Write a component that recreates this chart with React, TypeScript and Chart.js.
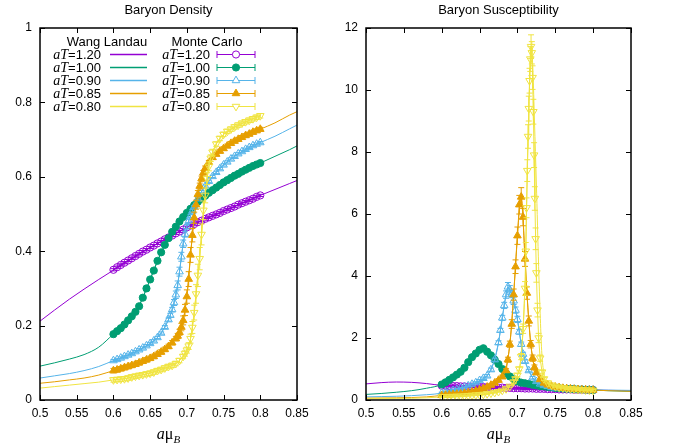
import React, { useEffect, useRef } from 'react';
import { Chart, registerables } from 'chart.js';
Chart.register(...registerables);

const SANS = '"Liberation Sans", Arial, Helvetica, sans-serif';
const SERIF = '"Liberation Serif", "Times New Roman", serif';

// ---------- labels ----------
const temps = ['1.20', '1.00', '0.90', '0.85', '0.80'];
const xTicks = [0.5, 0.55, 0.6, 0.65, 0.7, 0.75, 0.8, 0.85];
const xTickLabels = ['0.5', '0.55', '0.6', '0.65', '0.7', '0.75', '0.8', '0.85'];
const densYTicks = [0, 0.2, 0.4, 0.6, 0.8, 1];
const densYTickLabels = ['0', '0.2', '0.4', '0.6', '0.8', '1'];
const chiYTicks = [0, 2, 4, 6, 8, 10, 12];
const chiYTickLabels = ['0', '2', '4', '6', '8', '10', '12'];

// ---------- Monte Carlo x grids ----------
const mcX = [0.600, 0.605, 0.610, 0.615, 0.620, 0.625, 0.630, 0.635, 0.640, 0.645, 0.650, 0.655, 0.660, 0.665, 0.670, 0.675, 0.680, 0.685, 0.690, 0.695, 0.700, 0.705, 0.710, 0.715, 0.720, 0.725, 0.730, 0.735, 0.740, 0.745, 0.750, 0.755, 0.760, 0.765, 0.770, 0.775, 0.780, 0.785, 0.790, 0.795, 0.800];
const blueX = [0.600, 0.605, 0.610, 0.615, 0.620, 0.625, 0.630, 0.635, 0.640, 0.645, 0.650, 0.655, 0.660, 0.665, 0.670, 0.675, 0.6775, 0.680, 0.6825, 0.685, 0.6875, 0.690, 0.6925, 0.695, 0.6975, 0.700, 0.7025, 0.705, 0.7075, 0.710, 0.715, 0.720, 0.725, 0.730, 0.735, 0.740, 0.745, 0.750, 0.755, 0.760, 0.765, 0.770, 0.775, 0.780, 0.785, 0.790, 0.795, 0.800];
const orangeX = [0.600, 0.605, 0.610, 0.615, 0.620, 0.625, 0.630, 0.635, 0.640, 0.645, 0.650, 0.655, 0.660, 0.665, 0.670, 0.675, 0.680, 0.685, 0.6875, 0.690, 0.6925, 0.695, 0.6975, 0.700, 0.7025, 0.705, 0.7075, 0.710, 0.7125, 0.715, 0.7175, 0.720, 0.7225, 0.725, 0.730, 0.735, 0.740, 0.745, 0.750, 0.755, 0.760, 0.765, 0.770, 0.775, 0.780, 0.785, 0.790, 0.795, 0.800];
const yellowDensX = [0.600, 0.605, 0.610, 0.615, 0.620, 0.625, 0.630, 0.635, 0.640, 0.645, 0.650, 0.655, 0.660, 0.665, 0.670, 0.675, 0.680, 0.685, 0.690, 0.695, 0.6975, 0.700, 0.7025, 0.705, 0.7075, 0.710, 0.7125, 0.715, 0.7175, 0.720, 0.7225, 0.725, 0.7275, 0.730, 0.7325, 0.735, 0.740, 0.745, 0.750, 0.755, 0.760, 0.765, 0.770, 0.775, 0.780, 0.785, 0.790, 0.795, 0.800];
const yellowChiX = [0.600, 0.605, 0.610, 0.615, 0.620, 0.625, 0.630, 0.635, 0.640, 0.645, 0.650, 0.655, 0.660, 0.665, 0.670, 0.675, 0.680, 0.685, 0.690, 0.695, 0.6975, 0.700, 0.7025, 0.705, 0.7075, 0.710, 0.711, 0.712, 0.713, 0.714, 0.715, 0.716, 0.717, 0.718, 0.719, 0.720, 0.721, 0.722, 0.723, 0.724, 0.725, 0.7265, 0.728, 0.730, 0.7325, 0.735, 0.740, 0.745, 0.750, 0.755, 0.760, 0.765, 0.770, 0.775, 0.780, 0.785, 0.790, 0.795, 0.800];

// ---------- Baryon density, Monte Carlo ----------
const densMC120 = [0.350, 0.357, 0.363, 0.369, 0.375, 0.381, 0.387, 0.393, 0.399, 0.404, 0.410, 0.415, 0.421, 0.426, 0.432, 0.437, 0.442, 0.448, 0.453, 0.458, 0.464, 0.469, 0.473, 0.478, 0.482, 0.487, 0.491, 0.495, 0.499, 0.503, 0.508, 0.512, 0.516, 0.520, 0.525, 0.529, 0.533, 0.537, 0.541, 0.546, 0.550];
const densMC100 = [0.177, 0.185, 0.193, 0.203, 0.214, 0.225, 0.237, 0.252, 0.275, 0.300, 0.324, 0.348, 0.374, 0.397, 0.417, 0.435, 0.452, 0.466, 0.480, 0.492, 0.503, 0.514, 0.524, 0.533, 0.541, 0.549, 0.557, 0.564, 0.571, 0.578, 0.585, 0.591, 0.597, 0.603, 0.608, 0.614, 0.619, 0.624, 0.629, 0.633, 0.637];
const densMC090 = [0.106, 0.109, 0.113, 0.117, 0.121, 0.125, 0.130, 0.135, 0.140, 0.146, 0.152, 0.159, 0.168, 0.180, 0.196, 0.216, 0.228, 0.243, 0.262, 0.283, 0.308, 0.345, 0.385, 0.420, 0.446, 0.466, 0.481, 0.495, 0.508, 0.520, 0.541, 0.560, 0.575, 0.588, 0.601, 0.612, 0.622, 0.632, 0.640, 0.648, 0.655, 0.662, 0.668, 0.674, 0.679, 0.684, 0.688, 0.692];
const densMC085 = [0.079, 0.081, 0.084, 0.087, 0.090, 0.093, 0.096, 0.100, 0.104, 0.108, 0.112, 0.117, 0.123, 0.129, 0.136, 0.144, 0.154, 0.165, 0.172, 0.182, 0.196, 0.214, 0.242, 0.278, 0.325, 0.390, 0.443, 0.490, 0.525, 0.553, 0.575, 0.595, 0.611, 0.623, 0.639, 0.652, 0.661, 0.669, 0.676, 0.683, 0.690, 0.696, 0.701, 0.706, 0.711, 0.715, 0.720, 0.724, 0.728];
const densMC080 = [0.054, 0.055, 0.056, 0.057, 0.059, 0.062, 0.064, 0.066, 0.068, 0.070, 0.072, 0.075, 0.079, 0.082, 0.086, 0.090, 0.093, 0.098, 0.106, 0.117, 0.125, 0.134, 0.145, 0.165, 0.195, 0.235, 0.285, 0.335, 0.380, 0.445, 0.510, 0.550, 0.595, 0.628, 0.650, 0.666, 0.688, 0.703, 0.714, 0.722, 0.728, 0.734, 0.739, 0.744, 0.748, 0.752, 0.756, 0.760, 0.764];

const densErr120 = [0.003, 0.003, 0.003, 0.003, 0.003, 0.003, 0.003, 0.003, 0.003, 0.003, 0.003, 0.003, 0.003, 0.003, 0.003, 0.003, 0.003, 0.003, 0.003, 0.003, 0.003, 0.003, 0.003, 0.003, 0.003, 0.003, 0.003, 0.003, 0.003, 0.003, 0.003, 0.003, 0.003, 0.003, 0.003, 0.003, 0.003, 0.003, 0.003, 0.003, 0.003];
const densErr100 = [0.003, 0.003, 0.003, 0.003, 0.003, 0.003, 0.003, 0.004, 0.004, 0.004, 0.004, 0.004, 0.004, 0.004, 0.004, 0.003, 0.003, 0.003, 0.003, 0.003, 0.003, 0.003, 0.003, 0.003, 0.003, 0.003, 0.003, 0.003, 0.003, 0.003, 0.003, 0.003, 0.003, 0.003, 0.003, 0.003, 0.003, 0.003, 0.003, 0.003, 0.003];
const densErr090 = [0.003, 0.003, 0.003, 0.003, 0.003, 0.003, 0.003, 0.003, 0.003, 0.003, 0.003, 0.003, 0.003, 0.003, 0.004, 0.004, 0.005, 0.006, 0.008, 0.010, 0.012, 0.012, 0.012, 0.010, 0.008, 0.006, 0.005, 0.004, 0.004, 0.003, 0.003, 0.003, 0.003, 0.003, 0.003, 0.003, 0.003, 0.003, 0.003, 0.003, 0.003, 0.003, 0.003, 0.003, 0.003, 0.003, 0.003, 0.003];
const densErr085 = [0.006, 0.006, 0.006, 0.006, 0.006, 0.006, 0.006, 0.006, 0.006, 0.006, 0.006, 0.006, 0.006, 0.006, 0.006, 0.006, 0.006, 0.006, 0.007, 0.008, 0.010, 0.012, 0.015, 0.018, 0.020, 0.020, 0.018, 0.015, 0.012, 0.010, 0.008, 0.007, 0.006, 0.006, 0.005, 0.005, 0.005, 0.005, 0.005, 0.005, 0.005, 0.005, 0.005, 0.005, 0.005, 0.005, 0.005, 0.005, 0.005];
const densErr080 = [0.006, 0.006, 0.006, 0.006, 0.006, 0.006, 0.006, 0.006, 0.006, 0.006, 0.006, 0.006, 0.006, 0.006, 0.006, 0.006, 0.006, 0.006, 0.006, 0.006, 0.007, 0.008, 0.009, 0.012, 0.016, 0.020, 0.025, 0.030, 0.030, 0.028, 0.025, 0.020, 0.016, 0.012, 0.009, 0.008, 0.006, 0.006, 0.006, 0.006, 0.006, 0.006, 0.006, 0.006, 0.006, 0.006, 0.006, 0.006, 0.006];

// ---------- Baryon susceptibility, Monte Carlo ----------
const chiMC120 = [0.46, 0.46, 0.45, 0.45, 0.45, 0.44, 0.44, 0.43, 0.43, 0.43, 0.42, 0.42, 0.41, 0.41, 0.40, 0.40, 0.40, 0.39, 0.39, 0.38, 0.38, 0.38, 0.37, 0.37, 0.37, 0.36, 0.36, 0.36, 0.35, 0.35, 0.35, 0.34, 0.34, 0.34, 0.34, 0.33, 0.33, 0.33, 0.33, 0.32, 0.32];
const chiMC100 = [0.50, 0.57, 0.65, 0.73, 0.82, 0.91, 1.04, 1.22, 1.38, 1.50, 1.62, 1.67, 1.56, 1.44, 1.30, 1.16, 1.00, 0.86, 0.76, 0.67, 0.60, 0.56, 0.54, 0.52, 0.49, 0.47, 0.45, 0.44, 0.42, 0.41, 0.39, 0.38, 0.37, 0.36, 0.36, 0.35, 0.34, 0.34, 0.33, 0.33, 0.32];
const chiMC090 = [0.22, 0.25, 0.28, 0.31, 0.34, 0.38, 0.42, 0.46, 0.51, 0.56, 0.63, 0.70, 0.78, 0.98, 1.30, 1.85, 2.25, 2.65, 3.05, 3.40, 3.65, 3.55, 3.42, 3.20, 2.90, 2.60, 2.20, 1.80, 1.48, 1.25, 0.95, 0.72, 0.60, 0.52, 0.47, 0.44, 0.41, 0.39, 0.38, 0.37, 0.36, 0.35, 0.35, 0.34, 0.34, 0.33, 0.33, 0.33];
const chiMC085 = [0.15, 0.16, 0.17, 0.18, 0.19, 0.20, 0.22, 0.24, 0.26, 0.29, 0.33, 0.37, 0.42, 0.48, 0.55, 0.64, 0.75, 0.95, 1.30, 1.80, 2.45, 3.40, 4.30, 5.30, 6.30, 6.55, 5.90, 4.55, 3.45, 2.55, 1.80, 1.35, 1.05, 0.88, 0.66, 0.55, 0.49, 0.45, 0.42, 0.40, 0.38, 0.37, 0.36, 0.35, 0.34, 0.33, 0.33, 0.32, 0.32];
const chiMC080 = [0.10, 0.10, 0.11, 0.11, 0.12, 0.12, 0.13, 0.14, 0.15, 0.16, 0.17, 0.18, 0.20, 0.22, 0.24, 0.27, 0.31, 0.36, 0.44, 0.58, 0.68, 0.80, 1.00, 1.40, 2.30, 3.60, 4.80, 6.20, 7.40, 8.50, 9.40, 10.30, 11.00, 11.40, 11.20, 10.40, 9.30, 7.90, 6.50, 5.20, 4.10, 2.90, 2.00, 1.35, 0.90, 0.68, 0.55, 0.48, 0.44, 0.41, 0.39, 0.37, 0.36, 0.35, 0.34, 0.33, 0.32, 0.32, 0.31];

const chiErr120 = [0.03, 0.03, 0.03, 0.03, 0.03, 0.03, 0.03, 0.03, 0.03, 0.03, 0.03, 0.03, 0.03, 0.03, 0.03, 0.03, 0.03, 0.03, 0.03, 0.03, 0.03, 0.03, 0.03, 0.03, 0.03, 0.03, 0.03, 0.03, 0.03, 0.03, 0.03, 0.03, 0.03, 0.03, 0.03, 0.03, 0.03, 0.03, 0.03, 0.03, 0.03];
const chiErr100 = [0.03, 0.03, 0.03, 0.03, 0.04, 0.04, 0.04, 0.05, 0.05, 0.05, 0.05, 0.05, 0.05, 0.05, 0.05, 0.05, 0.04, 0.04, 0.04, 0.03, 0.03, 0.03, 0.03, 0.03, 0.03, 0.03, 0.03, 0.03, 0.03, 0.03, 0.03, 0.03, 0.03, 0.03, 0.03, 0.03, 0.03, 0.03, 0.03, 0.03, 0.03];
const chiErr090 = [0.03, 0.03, 0.03, 0.03, 0.03, 0.03, 0.03, 0.03, 0.03, 0.03, 0.03, 0.04, 0.04, 0.05, 0.05, 0.06, 0.06, 0.08, 0.10, 0.12, 0.14, 0.14, 0.12, 0.12, 0.10, 0.10, 0.08, 0.07, 0.06, 0.05, 0.04, 0.04, 0.03, 0.03, 0.03, 0.03, 0.03, 0.03, 0.03, 0.03, 0.03, 0.03, 0.03, 0.03, 0.03, 0.03, 0.03, 0.03];
const chiErr085 = [0.03, 0.03, 0.03, 0.03, 0.03, 0.03, 0.03, 0.03, 0.03, 0.03, 0.03, 0.03, 0.03, 0.04, 0.04, 0.05, 0.05, 0.06, 0.08, 0.10, 0.14, 0.18, 0.22, 0.28, 0.30, 0.30, 0.28, 0.24, 0.20, 0.16, 0.12, 0.10, 0.08, 0.06, 0.04, 0.03, 0.03, 0.03, 0.03, 0.03, 0.03, 0.03, 0.03, 0.03, 0.03, 0.03, 0.03, 0.03, 0.03];
const chiErr080 = [0.02, 0.02, 0.02, 0.02, 0.02, 0.02, 0.02, 0.02, 0.02, 0.02, 0.02, 0.02, 0.02, 0.02, 0.02, 0.02, 0.02, 0.03, 0.03, 0.04, 0.04, 0.05, 0.06, 0.10, 0.15, 0.22, 0.28, 0.32, 0.35, 0.38, 0.40, 0.40, 0.40, 0.38, 0.36, 0.38, 0.40, 0.40, 0.38, 0.35, 0.30, 0.22, 0.15, 0.10, 0.06, 0.05, 0.03, 0.03, 0.03, 0.03, 0.03, 0.03, 0.03, 0.03, 0.03, 0.03, 0.03, 0.03, 0.03];

// ---------- Wang Landau curves: density ----------
const wlDensX120 = [0.50, 0.52, 0.54, 0.56, 0.58, 0.60, 0.62, 0.64, 0.66, 0.68, 0.70, 0.72, 0.74, 0.76, 0.78, 0.80, 0.82, 0.84, 0.85];
const wlDensY120 = [0.212, 0.242, 0.271, 0.298, 0.324, 0.349, 0.373, 0.398, 0.421, 0.443, 0.464, 0.482, 0.499, 0.516, 0.533, 0.550, 0.566, 0.582, 0.590];
const wlDensX100 = [0.50, 0.52, 0.54, 0.56, 0.58, 0.60, 0.61, 0.62, 0.63, 0.64, 0.65, 0.66, 0.67, 0.68, 0.69, 0.70, 0.72, 0.74, 0.76, 0.78, 0.80, 0.82, 0.84, 0.85];
const wlDensY100 = [0.091, 0.100, 0.110, 0.122, 0.142, 0.177, 0.193, 0.214, 0.237, 0.275, 0.324, 0.374, 0.417, 0.452, 0.480, 0.503, 0.541, 0.571, 0.597, 0.619, 0.637, 0.655, 0.673, 0.683];
const wlDensX090 = [0.50, 0.52, 0.54, 0.56, 0.58, 0.60, 0.62, 0.64, 0.66, 0.67, 0.675, 0.68, 0.685, 0.69, 0.695, 0.70, 0.705, 0.71, 0.72, 0.74, 0.76, 0.78, 0.80, 0.82, 0.84, 0.85];
const wlDensY090 = [0.059, 0.065, 0.071, 0.079, 0.090, 0.106, 0.121, 0.140, 0.168, 0.196, 0.216, 0.243, 0.283, 0.345, 0.420, 0.466, 0.495, 0.520, 0.560, 0.612, 0.648, 0.674, 0.692, 0.709, 0.729, 0.739];
const wlDensX085 = [0.50, 0.52, 0.54, 0.56, 0.58, 0.60, 0.62, 0.64, 0.66, 0.68, 0.69, 0.695, 0.70, 0.705, 0.71, 0.715, 0.72, 0.73, 0.74, 0.76, 0.78, 0.80, 0.82, 0.84, 0.85];
const wlDensY085 = [0.045, 0.049, 0.054, 0.059, 0.067, 0.079, 0.090, 0.104, 0.123, 0.154, 0.182, 0.214, 0.278, 0.390, 0.490, 0.553, 0.595, 0.639, 0.661, 0.690, 0.711, 0.728, 0.745, 0.766, 0.775];
const wlDensX080 = [0.50, 0.52, 0.54, 0.56, 0.58, 0.60, 0.62, 0.64, 0.66, 0.68, 0.69, 0.70, 0.705, 0.71, 0.715, 0.72, 0.725, 0.73, 0.735, 0.74, 0.75, 0.76, 0.78, 0.80];
const wlDensY080 = [0.032, 0.036, 0.040, 0.044, 0.048, 0.054, 0.059, 0.068, 0.079, 0.093, 0.106, 0.134, 0.165, 0.235, 0.335, 0.445, 0.550, 0.628, 0.666, 0.688, 0.714, 0.728, 0.748, 0.764];

// ---------- Wang Landau curves: susceptibility ----------
const wlChiX120 = [0.50, 0.52, 0.54, 0.56, 0.58, 0.60, 0.62, 0.64, 0.66, 0.68, 0.70, 0.72, 0.74, 0.76, 0.78, 0.80, 0.82, 0.85];
const wlChiY120 = [0.52, 0.56, 0.58, 0.57, 0.53, 0.47, 0.45, 0.43, 0.41, 0.40, 0.38, 0.37, 0.35, 0.34, 0.33, 0.32, 0.31, 0.30];
const wlChiX100 = [0.50, 0.52, 0.54, 0.56, 0.58, 0.60, 0.62, 0.63, 0.64, 0.65, 0.655, 0.66, 0.67, 0.68, 0.69, 0.70, 0.72, 0.74, 0.76, 0.78, 0.80, 0.82, 0.85];
const wlChiY100 = [0.18, 0.21, 0.25, 0.30, 0.38, 0.50, 0.82, 1.04, 1.38, 1.62, 1.67, 1.56, 1.30, 1.00, 0.76, 0.60, 0.49, 0.42, 0.37, 0.34, 0.32, 0.30, 0.28];
const wlChiX090 = [0.50, 0.52, 0.54, 0.56, 0.58, 0.60, 0.62, 0.64, 0.66, 0.67, 0.675, 0.68, 0.685, 0.6875, 0.69, 0.695, 0.70, 0.705, 0.71, 0.72, 0.73, 0.75, 0.78, 0.80, 0.82, 0.85];
const wlChiY090 = [0.10, 0.11, 0.12, 0.14, 0.17, 0.22, 0.34, 0.51, 0.78, 1.30, 1.85, 2.65, 3.40, 3.65, 3.55, 3.20, 2.60, 1.80, 1.25, 0.72, 0.52, 0.39, 0.34, 0.33, 0.32, 0.31];
const wlChiX085 = [0.50, 0.54, 0.58, 0.60, 0.64, 0.66, 0.68, 0.69, 0.695, 0.70, 0.705, 0.71, 0.715, 0.72, 0.725, 0.73, 0.75, 0.78, 0.80, 0.82, 0.85];
const wlChiY085 = [0.06, 0.07, 0.10, 0.15, 0.26, 0.42, 0.75, 1.80, 3.40, 5.30, 6.55, 4.55, 2.55, 1.35, 0.88, 0.66, 0.42, 0.34, 0.32, 0.30, 0.28];
const wlChiX080 = [0.50, 0.54, 0.58, 0.60, 0.64, 0.66, 0.68, 0.69, 0.70, 0.705, 0.71, 0.7135, 0.7165, 0.7185, 0.7205, 0.7225, 0.725, 0.728, 0.730, 0.732, 0.735, 0.74, 0.75, 0.77, 0.80];
const wlChiY080 = [0.04, 0.05, 0.07, 0.10, 0.15, 0.20, 0.31, 0.44, 0.80, 1.40, 3.80, 7.80, 10.50, 11.40, 10.60, 9.00, 7.00, 4.30, 2.80, 1.60, 0.85, 0.55, 0.44, 0.36, 0.31];

// ---------- styles ----------
const colors = ['#9400d3', '#009e73', '#56b4e9', '#e69f00', '#f0e442'];
const markers = [
  { style: 'circle', rot: 0, filled: false, r: 3.6 },
  { style: 'circle', rot: 0, filled: true, r: 3.6 },
  { style: 'triangle', rot: 0, filled: false, r: 4.4 },
  { style: 'triangle', rot: 0, filled: true, r: 4.4 },
  { style: 'triangle', rot: 180, filled: false, r: 4.4 },
];

type Series = { x: number[]; y: number[]; e?: number[] };

const densMC: Series[] = [
  { x: mcX, y: densMC120, e: densErr120 },
  { x: mcX, y: densMC100, e: densErr100 },
  { x: blueX, y: densMC090, e: densErr090 },
  { x: orangeX, y: densMC085, e: densErr085 },
  { x: yellowDensX, y: densMC080, e: densErr080 },
];
const densWL: Series[] = [
  { x: wlDensX120, y: wlDensY120 },
  { x: wlDensX100, y: wlDensY100 },
  { x: wlDensX090, y: wlDensY090 },
  { x: wlDensX085, y: wlDensY085 },
  { x: wlDensX080, y: wlDensY080 },
];
const chiMC: Series[] = [
  { x: mcX, y: chiMC120, e: chiErr120 },
  { x: mcX, y: chiMC100, e: chiErr100 },
  { x: blueX, y: chiMC090, e: chiErr090 },
  { x: orangeX, y: chiMC085, e: chiErr085 },
  { x: yellowChiX, y: chiMC080, e: chiErr080 },
];
const chiWL: Series[] = [
  { x: wlChiX120, y: wlChiY120 },
  { x: wlChiX100, y: wlChiY100 },
  { x: wlChiX090, y: wlChiY090 },
  { x: wlChiX085, y: wlChiY085 },
  { x: wlChiX080, y: wlChiY080 },
];

function markerPath(ctx: CanvasRenderingContext2D, j: number, x: number, y: number) {
  const m = markers[j];
  ctx.beginPath();
  if (m.style === 'circle') {
    ctx.arc(x, y, m.r, 0, Math.PI * 2);
  } else {
    let rad = (m.rot * Math.PI) / 180;
    ctx.moveTo(x + Math.sin(rad) * m.r, y - Math.cos(rad) * m.r);
    rad += (2 * Math.PI) / 3;
    ctx.lineTo(x + Math.sin(rad) * m.r, y - Math.cos(rad) * m.r);
    rad += (2 * Math.PI) / 3;
    ctx.lineTo(x + Math.sin(rad) * m.r, y - Math.cos(rad) * m.r);
    ctx.closePath();
  }
}

function drawTempLabel(ctx: CanvasRenderingContext2D, t: string, right: number, base: number) {
  const num = '=' + t;
  ctx.fillStyle = '#000';
  ctx.textAlign = 'left';
  ctx.textBaseline = 'alphabetic';
  ctx.font = `13px ${SANS}`;
  const wn = ctx.measureText(num).width;
  ctx.font = `italic 14px ${SERIF}`;
  const wa = ctx.measureText('aT').width;
  const x0 = right - wn - wa;
  ctx.fillText('aT', x0, base);
  ctx.font = `13px ${SANS}`;
  ctx.fillText(num, x0 + wa, base);
}

function drawLegend(ctx: CanvasRenderingContext2D, ox: number) {
  ctx.save();
  ctx.fillStyle = '#000';
  ctx.font = `13px ${SANS}`;
  ctx.textAlign = 'center';
  ctx.textBaseline = 'alphabetic';
  ctx.fillText('Wang Landau', ox + 67, 45.5);
  ctx.fillText('Monte Carlo', ox + 167, 45.5);
  for (let j = 0; j < temps.length; j++) {
    const yc = 54.5 + j * 13;
    drawTempLabel(ctx, temps[j], ox + 61, yc + 4.5);
    drawTempLabel(ctx, temps[j], ox + 170, yc + 4.5);
    const col = colors[j];
    // Wang Landau sample
    ctx.strokeStyle = col;
    ctx.lineWidth = 1.6;
    ctx.beginPath();
    ctx.moveTo(ox + 70, yc);
    ctx.lineTo(ox + 107, yc);
    ctx.stroke();
    // Monte Carlo sample
    ctx.lineWidth = 1;
    ctx.beginPath();
    ctx.moveTo(ox + 177, yc);
    ctx.lineTo(ox + 215, yc);
    ctx.moveTo(ox + 177, yc - 3.5);
    ctx.lineTo(ox + 177, yc + 3.5);
    ctx.moveTo(ox + 215, yc - 3.5);
    ctx.lineTo(ox + 215, yc + 3.5);
    ctx.stroke();
    markerPath(ctx, j, ox + 196, yc);
    ctx.fillStyle = markers[j].filled ? col : '#ffffff';
    ctx.fill();
    ctx.stroke();
  }
  ctx.restore();
}

function drawAxisTitle(ctx: CanvasRenderingContext2D, cx: number, base: number) {
  ctx.save();
  ctx.fillStyle = '#000';
  ctx.textAlign = 'left';
  ctx.textBaseline = 'alphabetic';
  const fA = `italic 16px ${SERIF}`;
  const fM = `16px ${SERIF}`;
  const fB = `italic 11px ${SERIF}`;
  ctx.font = fA; const wa = ctx.measureText('a').width;
  ctx.font = fM; const wm = ctx.measureText('μ').width;
  ctx.font = fB; const wb = ctx.measureText('B').width;
  let x = cx - (wa + wm + wb) / 2;
  ctx.font = fA; ctx.fillText('a', x, base); x += wa;
  ctx.font = fM; ctx.fillText('μ', x, base); x += wm;
  ctx.font = fB; ctx.fillText('B', x, base + 4);
  ctx.restore();
}

function makeDecor(title: string, yTicks: number[], legend: boolean) {
  return {
    id: 'decor',
    afterDatasetDraw(chart: any, args: any) {
      const ds = chart.data.datasets[args.index];
      const err: number[] | undefined = ds.errors;
      if (!err) return;
      const { ctx, chartArea: a } = chart;
      const ys = chart.scales.y;
      ctx.save();
      ctx.beginPath();
      ctx.rect(a.left, a.top, a.right - a.left, a.bottom - a.top);
      ctx.clip();
      ctx.strokeStyle = ds.borderColor;
      ctx.lineWidth = 1;
      ctx.beginPath();
      args.meta.data.forEach((pt: any, i: number) => {
        const e = err[i];
        if (!e) return;
        const v = ds.data[i].y;
        const y1 = ys.getPixelForValue(v - e);
        const y2 = ys.getPixelForValue(v + e);
        const x = pt.x;
        ctx.moveTo(x, y1); ctx.lineTo(x, y2);
        ctx.moveTo(x - 3, y1); ctx.lineTo(x + 3, y1);
        ctx.moveTo(x - 3, y2); ctx.lineTo(x + 3, y2);
      });
      ctx.stroke();
      ctx.restore();
    },
    afterDraw(chart: any) {
      const { ctx, chartArea: a, scales } = chart;
      ctx.save();
      ctx.strokeStyle = '#000';
      ctx.lineWidth = 1;
      ctx.beginPath();
      const tl = 5;
      xTicks.forEach((v) => {
        const px = Math.round(scales.x.getPixelForValue(v)) + 0.5;
        ctx.moveTo(px, a.bottom); ctx.lineTo(px, a.bottom - tl);
        ctx.moveTo(px, a.top); ctx.lineTo(px, a.top + tl);
      });
      yTicks.forEach((v) => {
        const py = Math.round(scales.y.getPixelForValue(v)) + 0.5;
        ctx.moveTo(a.left, py); ctx.lineTo(a.left + tl, py);
        ctx.moveTo(a.right, py); ctx.lineTo(a.right - tl, py);
      });
      ctx.stroke();
      ctx.lineWidth = 1.5;
      ctx.strokeRect(Math.round(a.left), Math.round(a.top), Math.round(a.right - a.left), Math.round(a.bottom - a.top));
      ctx.fillStyle = '#000';
      ctx.font = `13px ${SANS}`;
      ctx.textAlign = 'center';
      ctx.textBaseline = 'middle';
      ctx.fillText(title, (a.left + a.right) / 2, 10);
      ctx.restore();
      drawAxisTitle(ctx, (a.left + a.right) / 2, 439);
      if (legend) drawLegend(ctx, a.left);
    },
  };
}

function buildConfig(
  mc: Series[], wl: Series[], yMax: number, yTicks: number[], yLabels: string[],
  yWidth: number, padRight: number, title: string, legend: boolean,
): any {
  const datasets: any[] = [];
  wl.forEach((s, j) => {
    datasets.push({
      label: 'Wang Landau aT=' + temps[j],
      data: s.x.map((x, i) => ({ x, y: s.y[i] })),
      showLine: true,
      borderColor: colors[j],
      backgroundColor: colors[j],
      borderWidth: 1,
      pointRadius: 0,
      cubicInterpolationMode: 'monotone',
      order: 100 - j,
    });
  });
  mc.forEach((s, j) => {
    const m = markers[j];
    datasets.push({
      label: 'Monte Carlo aT=' + temps[j],
      data: s.x.map((x, i) => ({ x, y: s.y[i] })),
      errors: s.e,
      showLine: true,
      borderColor: colors[j],
      backgroundColor: colors[j],
      borderWidth: 1,
      pointStyle: m.style,
      pointRotation: m.rot,
      pointRadius: m.r,
      pointBorderWidth: 1,
      pointBorderColor: colors[j],
      pointBackgroundColor: m.filled ? colors[j] : 'rgba(0,0,0,0)',
      order: 50 - j,
    });
  });
  return {
    type: 'scatter',
    data: { datasets },
    options: {
      animation: false,
      responsive: false,
      devicePixelRatio: 1,
      events: [],
      layout: { padding: { top: 28, right: padRight, left: 0, bottom: 0 } },
      plugins: { legend: { display: false }, title: { display: false }, tooltip: { enabled: false } },
      scales: {
        x: {
          type: 'linear', min: 0.5, max: 0.85,
          grid: { display: false, drawTicks: false },
          border: { display: false },
          afterBuildTicks: (sc: any) => { sc.ticks = xTicks.map((v) => ({ value: v })); },
          afterFit: (sc: any) => { sc.height = 47; },
          ticks: {
            padding: 6, color: '#000', maxRotation: 0, autoSkip: false,
            font: { family: SANS, size: 12 },
            callback: (_v: any, i: number) => xTickLabels[i],
          },
        },
        y: {
          type: 'linear', min: 0, max: yMax,
          grid: { display: false, drawTicks: false },
          border: { display: false },
          afterBuildTicks: (sc: any) => { sc.ticks = yTicks.map((v) => ({ value: v })); },
          afterFit: (sc: any) => { sc.width = yWidth; },
          ticks: {
            padding: 8, color: '#000', autoSkip: false,
            font: { family: SANS, size: 12 },
            callback: (_v: any, i: number) => yLabels[i],
          },
        },
      },
    },
    plugins: [makeDecor(title, yTicks, legend)],
  };
}

export default function App() {
  const leftRef = useRef<HTMLCanvasElement>(null);
  const rightRef = useRef<HTMLCanvasElement>(null);
  useEffect(() => {
    const c1 = new Chart(leftRef.current as HTMLCanvasElement,
      buildConfig(densMC, densWL, 1, densYTicks, densYTickLabels, 40, 39, 'Baryon Density', true));
    const c2 = new Chart(rightRef.current as HTMLCanvasElement,
      buildConfig(chiMC, chiWL, 12, chiYTicks, chiYTickLabels, 30, 42, 'Baryon Susceptibility', false));
    return () => { c1.destroy(); c2.destroy(); };
  }, []);
  return (
    <div style={{ position: 'fixed', left: 0, top: 0, width: 673, height: 447, background: '#fff' }}>
      <canvas ref={leftRef} width={336} height={447}
        style={{ position: 'absolute', left: 0, top: 0, width: 336, height: 447, display: 'block' }} />
      <canvas ref={rightRef} width={337} height={447}
        style={{ position: 'absolute', left: 336, top: 0, width: 337, height: 447, display: 'block' }} />
    </div>
  );
}
